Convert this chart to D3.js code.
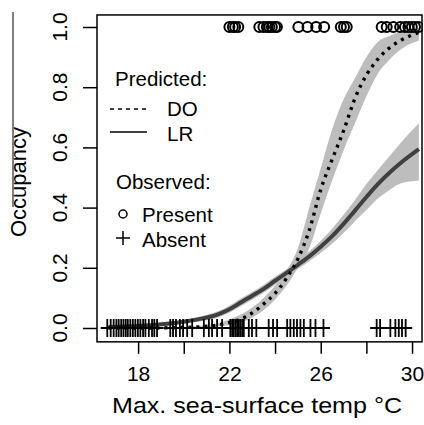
<!DOCTYPE html>
<html>
<head>
<meta charset="utf-8">
<script src="https://d3js.org/d3.v7.min.js"></script>
<style>
  body { margin: 0; background: #fff; }
  text { font-family: "Liberation Sans", Arial, sans-serif; fill: #000; }
</style>
</head>
<body>
<svg id="chart" width="424" height="425"></svg>
<script>
    // fitted curves
    const curveTemp = [16.7, 17.5, 18.5, 19.5, 20.5, 21.5, 22, 22.5, 23, 23.5, 24, 24.5, 25, 25.5, 26, 26.5, 27, 27.5, 28, 28.5, 29, 29.5, 30.3];
    const doFit  = [0.000, 0.000, 0.000, 0.001, 0.003, 0.010, 0.018, 0.030, 0.050, 0.080, 0.115, 0.165, 0.230, 0.325, 0.460, 0.560, 0.655, 0.763, 0.840, 0.893, 0.930, 0.955, 0.982];
    const doLow  = [0.000, 0.000, 0.000, 0.000, 0.001, 0.005, 0.010, 0.018, 0.035, 0.060, 0.095, 0.140, 0.200, 0.265, 0.380, 0.490, 0.590, 0.680, 0.770, 0.845, 0.890, 0.925, 0.955];
    const doHigh = [0.001, 0.001, 0.001, 0.002, 0.006, 0.016, 0.028, 0.045, 0.068, 0.100, 0.140, 0.190, 0.265, 0.400, 0.530, 0.660, 0.760, 0.830, 0.900, 0.950, 0.970, 0.985, 0.997];
    const lrFit  = [0.003, 0.005, 0.009, 0.016, 0.027, 0.045, 0.062, 0.085, 0.107, 0.130, 0.157, 0.183, 0.210, 0.238, 0.270, 0.305, 0.346, 0.390, 0.435, 0.478, 0.515, 0.548, 0.594];
    const lrLow  = [0.001, 0.003, 0.006, 0.011, 0.020, 0.035, 0.051, 0.072, 0.094, 0.117, 0.144, 0.171, 0.196, 0.222, 0.250, 0.280, 0.316, 0.355, 0.392, 0.430, 0.458, 0.480, 0.490];
    const lrHigh = [0.005, 0.007, 0.012, 0.021, 0.035, 0.056, 0.074, 0.098, 0.120, 0.143, 0.170, 0.195, 0.224, 0.255, 0.290, 0.330, 0.376, 0.425, 0.478, 0.525, 0.570, 0.615, 0.680];

    // observations
    const present = [22.0, 22.15, 22.25, 22.39, 23.31, 23.49, 23.64, 23.75, 23.86, 24.0, 24.08,
        25.02, 25.42, 25.8, 26.15, 26.88, 27.02, 27.14,
        28.67, 28.89, 29.18, 29.48, 29.69, 29.84, 29.99, 30.13, 30.28];
    const absent = [16.65, 16.8, 16.93, 17.05, 17.15, 17.26, 17.36, 17.46, 17.55, 17.66, 17.77, 17.88, 17.99,
        18.1, 18.22, 18.32, 18.47, 18.61, 18.71, 18.83, 19.41, 19.53, 19.66, 19.83, 19.97, 20.15, 20.37,
        20.88, 21.1, 21.24, 21.46, 21.68, 22.04, 22.12, 22.19, 22.27, 22.34, 22.41, 22.48, 22.56, 22.63,
        22.85, 22.99, 23.18, 23.72, 23.91, 24.09, 24.53, 24.67, 24.82, 24.96, 25.11, 25.26, 25.55, 25.77,
        26.12, 28.45, 28.6, 29.05, 29.27, 29.42, 29.56, 29.72];

    const xTicks = [18, 20, 22, 24, 26, 28, 30];
    const xLabels = [18, 22, 26, 30];
    const yTicks = [0, 0.2, 0.4, 0.6, 0.8, 1.0];

    const svg = d3.select("#chart");

    const x = d3.scaleLinear().domain([16.2, 30.48]).range([97, 423]);
    const y = d3.scaleLinear().domain([0, 1]).range([328, 27]);

    const fitData = curveTemp.map(function(t, i) {
        return {t: t, doF: doFit[i], doL: doLow[i], doH: doHigh[i], lrF: lrFit[i], lrL: lrLow[i], lrH: lrHigh[i]};
    });

    const boxTop = y(1.04), boxBottom = y(-0.046);
    const boxLeft = x.range()[0], boxRight = x.range()[1];

    svg.append("clipPath").attr("id", "plotclip")
        .append("rect")
        .attr("x", boxLeft).attr("y", boxTop)
        .attr("width", boxRight - boxLeft)
        .attr("height", boxBottom - boxTop);

    const plot = svg.append("g").attr("clip-path", "url(#plotclip)");

    // confidence bands
    const band = function(lo, hi) {
        return d3.area()
            .x(function(d){ return x(d.t) })
            .y0(function(d){ return y(d[lo]) })
            .y1(function(d){ return y(d[hi]) })
            .curve(d3.curveMonotoneX);
    };
    plot.append("path").datum(fitData).attr("d", band("doL", "doH")).attr("fill", "#bdbdbd");
    plot.append("path").datum(fitData).attr("d", band("lrL", "lrH")).attr("fill", "#bdbdbd");

    const line = function(key) {
        return d3.line()
            .x(function(d){ return x(d.t) })
            .y(function(d){ return y(d[key]) })
            .curve(d3.curveMonotoneX);
    };
    plot.append("path").datum(fitData).attr("d", line("lrF"))
        .attr("fill", "none").attr("stroke", "#404040").attr("stroke-width", 4);
    plot.append("path").datum(fitData).attr("d", line("doF"))
        .attr("fill", "none").attr("stroke", "#000").attr("stroke-width", 3.4)
        .attr("stroke-dasharray", "3,5");

    // observed points
    plot.append("g").selectAll("circle")
        .data(present)
        .enter()
        .append("circle")
        .attr("cx", function(d){ return x(d) })
        .attr("cy", y(1))
        .attr("r", 5)
        .attr("fill", "none")
        .attr("stroke", "#000")
        .attr("stroke-width", 2);

    plot.append("g").selectAll("path")
        .data(absent)
        .enter()
        .append("path")
        .attr("d", function(d){
            const cx = x(d), cy = y(0);
            return "M" + (cx - 6.5) + "," + cy + "H" + (cx + 6.5) + "M" + cx + "," + (cy - 9) + "V" + (cy + 9);
        })
        .attr("stroke", "#000")
        .attr("stroke-width", 1.8);

    // box
    svg.append("rect")
        .attr("x", boxLeft).attr("y", boxTop)
        .attr("width", boxRight - boxLeft - 1)
        .attr("height", boxBottom - boxTop)
        .attr("fill", "none").attr("stroke", "#000").attr("stroke-width", 1.5);

    // axes
    const xAxis = svg.append("g").attr("transform", "translate(0," + boxBottom + ")")
        .call(d3.axisBottom(x).tickValues(xTicks).tickSize(12).tickPadding(12)
            .tickFormat(function(d){ return xLabels.indexOf(d) >= 0 ? d : "" }));
    xAxis.select(".domain").remove();
    xAxis.selectAll("line").attr("stroke-width", 1.5);
    xAxis.selectAll("text").style("font-size", "21px").attr("font-family", null);

    const yAxis = svg.append("g").attr("transform", "translate(" + boxLeft + ",0)")
        .call(d3.axisLeft(y).tickValues(yTicks).tickSize(14).tickFormat(""));
    yAxis.select(".domain").remove();
    yAxis.selectAll("line").attr("stroke-width", 1.5);

    svg.append("g").selectAll("text")
        .data(yTicks)
        .enter()
        .append("text")
        .attr("transform", function(d){ return "translate(67," + y(d) + ") rotate(-90)" })
        .attr("text-anchor", "middle")
        .style("font-size", "21px")
        .text(function(d){ return d3.format(".1f")(d) });

    svg.append("text")
        .attr("x", 257).attr("y", 413)
        .attr("text-anchor", "middle")
        .attr("textLength", 290).attr("lengthAdjust", "spacingAndGlyphs")
        .style("font-size", "22px")
        .text("Max. sea-surface temp \u00B0C");

    svg.append("text")
        .attr("transform", "translate(26,182) rotate(-90)")
        .attr("text-anchor", "middle")
        .style("font-size", "22px")
        .text("Occupancy");
    svg.append("line")
        .attr("x1", 13).attr("x2", 13).attr("y1", 12).attr("y2", 207)
        .attr("stroke", "#000").attr("stroke-width", 1);

    // legend
    const lg = svg.append("g").style("font-size", "20.5px");
    lg.append("text").attr("x", 115).attr("y", 86).text("Predicted:");
    lg.append("line").attr("x1", 110).attr("x2", 147).attr("y1", 109).attr("y2", 109)
        .attr("stroke", "#000").attr("stroke-width", 1.5).attr("stroke-dasharray", "4,4");
    lg.append("text").attr("x", 167).attr("y", 116).text("DO");
    lg.append("line").attr("x1", 110).attr("x2", 147).attr("y1", 132).attr("y2", 132)
        .attr("stroke", "#000").attr("stroke-width", 1.5);
    lg.append("text").attr("x", 167).attr("y", 141).text("LR");
    lg.append("text").attr("x", 116).attr("y", 189).text("Observed:");
    lg.append("circle").attr("cx", 123).attr("cy", 214).attr("r", 4)
        .attr("fill", "none").attr("stroke", "#000").attr("stroke-width", 1.5);
    lg.append("text").attr("x", 142).attr("y", 222).text("Present");
    lg.append("path").attr("d", "M116,238H130M123,231V245")
        .attr("stroke", "#000").attr("stroke-width", 1.5);
    lg.append("text").attr("x", 142).attr("y", 247).text("Absent");
</script>
</body>
</html>
